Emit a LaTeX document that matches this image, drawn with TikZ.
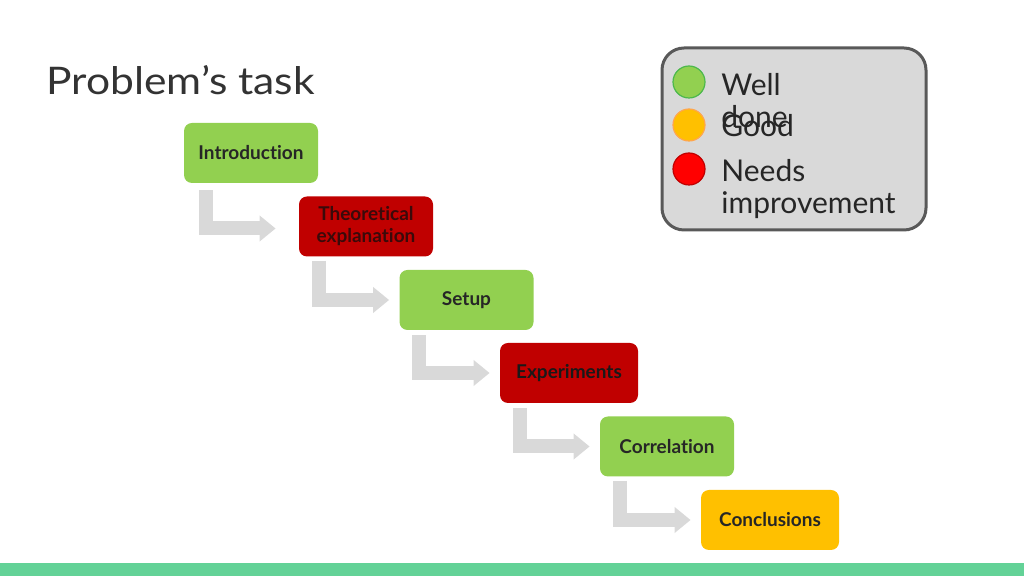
\documentclass[tikz,border=0pt]{standalone}
\usepackage{fontspec}
\setmainfont{Lato}[Ligatures=NoCommon]
\newfontfamily\titlefont{Lato}[FakeStretch=1.12, Ligatures=NoCommon]
\usepackage{tikz}
\usetikzlibrary{arrows.meta, calc}
\definecolor{okgreen}{RGB}{146,208,80}
\definecolor{badred}{RGB}{192,0,0}
\definecolor{midorange}{RGB}{255,192,0}
\definecolor{arrowgray}{RGB}{217,217,217}
\definecolor{legendgray}{RGB}{89,89,89}
\definecolor{stripgreen}{RGB}{99,210,151}
\definecolor{titlegray}{RGB}{51,51,51}
\definecolor{redtext}{RGB}{58,10,10}

\begin{document}
\begin{tikzpicture}[x=0.5pt, y=-0.5pt,
    box/.style={rectangle, rounded corners=4pt, minimum width=67pt, minimum height=30pt,
                align=center, font=\fontsize{9.5}{11}\selectfont\bfseries},
    arr/.style={draw=arrowgray, line width=7pt, line join=miter,
                -{Triangle[length=8pt, width=12.5pt]}},
    dot/.style={circle, minimum size=16pt, inner sep=0pt, line width=0.6pt},
    legtext/.style={anchor=base west, inner sep=0pt, text=black!85, font=\fontsize{15}{17}\selectfont}]
    \useasboundingbox (0,0) rectangle (1024,576);
    \fill[stripgreen] (0,563) rectangle (1024,576);
    \node[anchor=base west, inner sep=0pt, text=titlegray, font=\titlefont\fontsize{19}{22}\selectfont] (title) at (46,95) {Problem’s task};
    % legend
    \draw[legendgray, fill=arrowgray, line width=1.5pt, rounded corners=11pt] (662,48) rectangle (926,230);
    \node[dot, fill=okgreen, draw=green!60!black!70] (ldone) at (689,82) {};
    \node[dot, fill=midorange, draw=orange!70] (lgood) at (689,125) {};
    \node[dot, fill=red, draw=badred] (lneeds) at (689,169) {};
    \node[legtext] (twell) at (721,96) {Well};
    \node[legtext] (tdone) at (721,128) {done};
    \node[legtext] (tgood) at (721,137) {Good};
    \node[legtext] (tneeds) at (721,182) {Needs};
    \node[legtext] (timpr) at (721,214) {improvement};
    % steps
    \node[box, fill=okgreen, text=black!85] (intro) at (251,153) {Introduction};
    \node[box, fill=badred, text=redtext] (theory) at (366,226.5) {Theoretical\\explanation};
    \node[box, fill=okgreen, text=black!85] (setup) at (466.5,300) {Setup};
    \node[box, fill=badred, text=black!90, minimum width=69pt] (exper) at (569,373) {Experiments};
    \node[box, fill=okgreen, text=black!85] (corr) at (667,446.5) {Correlation};
    \node[box, fill=midorange, text=black!85, minimum width=69pt] (concl) at (770,520) {Conclusions};
    \draw[arr] ($(intro.south west)+(22,7)$) |- ($(theory.west)+(-23,2)$);
    \draw[arr] ($(theory.south west)+(20,4)$) |- ($(setup.west)+(-10,0)$);
    \draw[arr] ($(setup.south west)+(20,5)$) |- ($(exper.west)+(-10,0)$);
    \draw[arr] ($(exper.south west)+(20,5)$) |- ($(corr.west)+(-10,0)$);
    \draw[arr] ($(corr.south west)+(20,4)$) |- ($(concl.west)+(-10,0)$);
\end{tikzpicture}
\end{document}
